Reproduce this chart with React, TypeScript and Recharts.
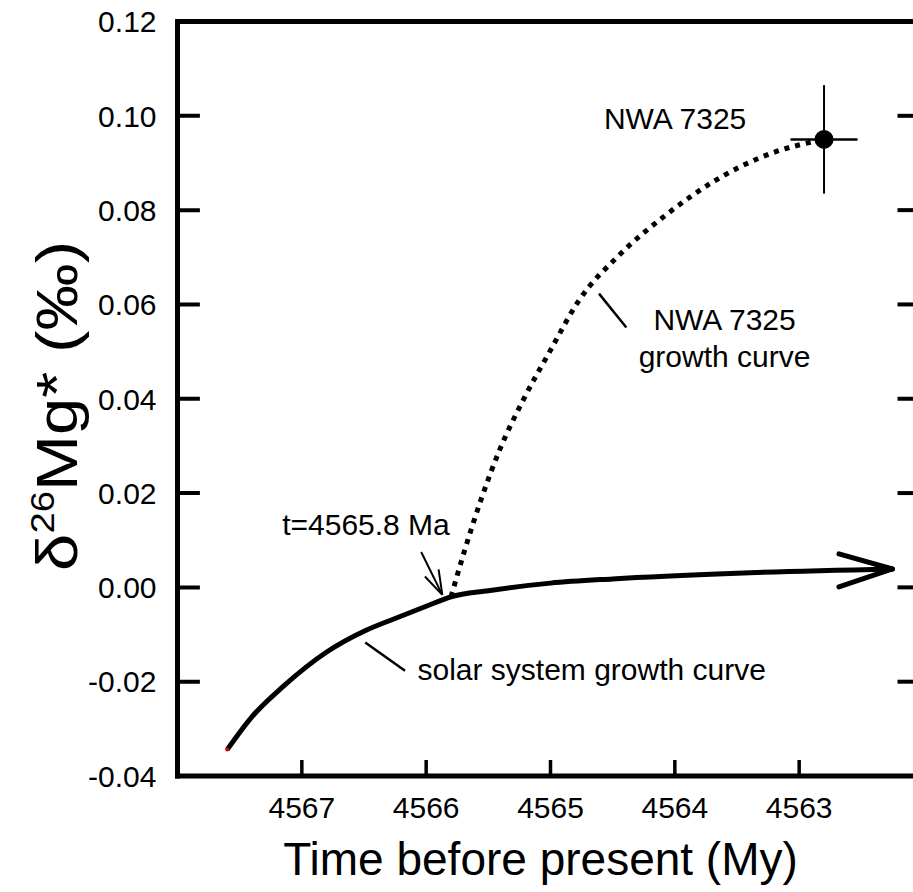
import {
  ComposedChart,
  Line,
  Scatter,
  XAxis,
  YAxis,
  ErrorBar,
  ReferenceLine,
  ReferenceDot,
} from "recharts";

const FONT = '"Liberation Sans", Arial, sans-serif';

// axis range and ticks
const xDomain = [4562, 4568];
const yDomain = [-0.04, 0.12];
const xTicks = [4567, 4566, 4565, 4564, 4563];
const yTicks = [-0.04, -0.02, 0.0, 0.02, 0.04, 0.06, 0.08, 0.1, 0.12];
const leftTickLen = 0.18; // inward tick length on the left frame, in My

// solar system growth curve (time in My before present, delta26Mg*)
const solarT = [4567.6, 4567.4, 4567.15, 4566.8, 4566.5, 4566.25, 4566.0, 4565.8, 4565.5, 4565.0, 4564.5, 4563.5, 4562.25];
const solarV = [-0.0344, -0.0274, -0.021, -0.0137, -0.0093, -0.0066, -0.004, -0.002, -0.0007, 0.0009, 0.0018, 0.003, 0.0039];

// NWA 7325 growth curve
const nwaT = [4565.8, 4565.69, 4565.56, 4565.41, 4565.22, 4565.0, 4564.77, 4564.45, 4564.08, 4563.68, 4563.24, 4562.8];
const nwaV = [-0.002, 0.0079, 0.0185, 0.0291, 0.0397, 0.0503, 0.0609, 0.0704, 0.0788, 0.0862, 0.0919, 0.095];

// NWA 7325 measurement
const pointT = 4562.8;
const pointV = 0.095;
const pointErrT = 0.27;
const pointErrV = 0.0115;

// annotation segments [t1, v1, t2, v2]
const arrowHeadSolar = [
  [4562.68, 0.0071, 4562.25, 0.0039],
  [4562.68, 0.0001, 4562.25, 0.0039],
];
const ageArrow = [
  [4566.04, 0.0075, 4565.87, -0.0016],
  [4565.9, 0.0038, 4565.87, -0.0016],
  [4566.01, 0.0023, 4565.87, -0.0016],
];
const solarLeader = [4566.49, -0.0117, 4566.17, -0.0177];
const nwaLeader = [4564.61, 0.0623, 4564.39, 0.0551];

// annotation texts [text, t, v, anchor]
const notes: [string, number, number, "start" | "middle" | "end"][] = [
  ["NWA 7325", 4564.57, 0.0972, "start"],
  ["NWA 7325", 4563.6, 0.0545, "middle"],
  ["growth curve", 4563.6, 0.0467, "middle"],
  ["t=4565.8 Ma", 4565.81, 0.0111, "end"],
  ["solar system growth curve", 4566.07, -0.0196, "start"],
];

const solarData = solarT.map((t, i) => ({ t, v: solarV[i] }));
const nwaData = nwaT.map((t, i) => ({ t, v: nwaV[i] }));
const pointData = [{ t: pointT, v: pointV, ex: pointErrT, ey: pointErrV }];
const startData = [{ t: solarT[0], v: solarV[0] }];
const leftTickData = yTicks.slice(1, -1).map((v) => [
  { t: xDomain[1], v },
  { t: xDomain[1] - leftTickLen, v },
]);

const LeftTick = (props: any) => {
  const x = Number(props.x);
  const y = Number(props.y);
  return (
    <text x={x - 21} y={y} dy="0.36em" textAnchor="end" fontSize={30} fontFamily={FONT} fill="#000">
      {Number(props.payload.value).toFixed(2)}
    </text>
  );
};

const RightTick = (props: any) => {
  const x = Number(props.x);
  const y = Number(props.y);
  return <line x1={x} x2={x - 26} y1={y} y2={y} stroke="#000" strokeWidth={4} />;
};

const BottomTick = (props: any) => {
  const x = Number(props.x);
  const y = Number(props.y);
  return (
    <g>
      <line x1={x} x2={x} y1={y} y2={y - 16} stroke="#000" strokeWidth={3.5} />
      <text x={x} y={y + 42} textAnchor="middle" fontSize={30} fontFamily={FONT} fill="#000">
        {props.payload.value}
      </text>
    </g>
  );
};

const axisLine = { stroke: "#000", strokeWidth: 5, strokeLinecap: "square" as const };

export default function App() {
  return (
    <div style={{ position: "absolute", left: 0, top: 0, width: 913, height: 892, overflow: "hidden", background: "#fff" }}>
      <ComposedChart
        width={940}
        height={892}
        margin={{ top: 20.5, right: 15.5, bottom: 0, left: 0 }}
        style={{ fontFamily: FONT }}
      >
        <XAxis
          type="number"
          dataKey="t"
          domain={xDomain}
          reversed
          ticks={xTicks}
          height={116}
          tickSize={0}
          tickMargin={0}
          tickLine={false}
          axisLine={axisLine}
          tick={<BottomTick />}
          allowDataOverflow
          label={{
            content: ({ viewBox }: any) => (
              <text
                x={viewBox.x + viewBox.width / 2 - 10}
                y={viewBox.y + 99}
                textAnchor="middle"
                fontSize={46}
                fontFamily={FONT}
                fill="#000"
              >
                Time before present (My)
              </text>
            ),
          }}
        />
        <XAxis
          xAxisId="top"
          orientation="top"
          type="number"
          dataKey="t"
          domain={xDomain}
          reversed
          height={1}
          tick={false}
          tickLine={false}
          axisLine={axisLine}
          allowDataOverflow
        />
        <YAxis
          type="number"
          domain={yDomain}
          ticks={yTicks}
          width={177.5}
          tickSize={0}
          tickMargin={0}
          tickLine={false}
          axisLine={axisLine}
          tick={<LeftTick />}
          allowDataOverflow
          label={{
            content: () => {
              const cx = 77;
              const cy = 406;
              return (
                <text
                  x={cx}
                  y={cy}
                  transform={`rotate(-90, ${cx}, ${cy})`}
                  textAnchor="middle"
                  fontSize={58}
                  fontFamily={FONT}
                  fill="#000"
                  textLength={330}
                  lengthAdjust="spacingAndGlyphs"
                >
                  δ<tspan dy={-23} fontSize={33}>26</tspan>
                  <tspan dy={23}>Mg* (‰)</tspan>
                </text>
              );
            },
          }}
        />
        <YAxis
          yAxisId="right"
          orientation="right"
          type="number"
          domain={yDomain}
          ticks={yTicks}
          width={1}
          tickSize={0}
          tickMargin={0}
          tickLine={false}
          axisLine={axisLine}
          tick={<RightTick />}
          allowDataOverflow
        />

        {/* invisible series that binds the top and right frame axes */}
        <Line
          xAxisId="top"
          yAxisId="right"
          data={solarData}
          dataKey="v"
          stroke="none"
          dot={false}
          activeDot={false}
          legendType="none"
          isAnimationActive={false}
        />

        {/* inward ticks on the left frame */}
        {leftTickData.map((d, i) => (
          <Line
            key={`lt${i}`}
            data={d}
            dataKey="v"
            type="linear"
            stroke="#000"
            strokeWidth={4}
            dot={false}
            activeDot={false}
            legendType="none"
            isAnimationActive={false}
          />
        ))}

        <Line
          data={solarData}
          dataKey="v"
          type="monotone"
          stroke="#000"
          strokeWidth={5}
          dot={false}
          activeDot={false}
          isAnimationActive={false}
        />
        <Line
          data={nwaData}
          dataKey="v"
          type="monotone"
          stroke="#000"
          strokeWidth={5}
          strokeDasharray="5 6"
          dot={false}
          activeDot={false}
          isAnimationActive={false}
        />

        {arrowHeadSolar.map((s, i) => (
          <ReferenceLine
            key={`ah${i}`}
            segment={[{ x: s[0], y: s[1] }, { x: s[2], y: s[3] }]}
            stroke="#000"
            strokeWidth={5}
            strokeLinecap="round"
            ifOverflow="visible"
          />
        ))}
        {ageArrow.map((s, i) => (
          <ReferenceLine
            key={`aa${i}`}
            segment={[{ x: s[0], y: s[1] }, { x: s[2], y: s[3] }]}
            stroke="#000"
            strokeWidth={2}
            ifOverflow="visible"
          />
        ))}
        <ReferenceLine
          segment={[{ x: solarLeader[0], y: solarLeader[1] }, { x: solarLeader[2], y: solarLeader[3] }]}
          stroke="#000"
          strokeWidth={2.5}
          ifOverflow="visible"
        />
        <ReferenceLine
          segment={[{ x: nwaLeader[0], y: nwaLeader[1] }, { x: nwaLeader[2], y: nwaLeader[3] }]}
          stroke="#000"
          strokeWidth={2.5}
          ifOverflow="visible"
        />

        <Scatter
          data={pointData}
          dataKey="v"
          fill="#000"
          isAnimationActive={false}
          shape={(p: any) => <circle cx={p.cx} cy={p.cy} r={9.5} fill="#000" />}
        >
          <ErrorBar dataKey="ex" direction="x" width={0} stroke="#000" strokeWidth={2.5} />
          <ErrorBar dataKey="ey" direction="y" width={0} stroke="#000" strokeWidth={2} />
        </Scatter>
        <Scatter
          data={startData}
          dataKey="v"
          fill="#d00"
          isAnimationActive={false}
          shape={(p: any) => <circle cx={p.cx} cy={p.cy} r={2} fill="#d00" />}
        />

        {notes.map(([txt, t, v, anchor], i) => (
          <ReferenceDot
            key={`n${i}`}
            x={t}
            y={v}
            r={0}
            ifOverflow="visible"
            shape={(p: any) => (
              <text x={p.cx} y={p.cy} textAnchor={anchor} fontSize={30} fontFamily={FONT} fill="#000">
                {txt}
              </text>
            )}
          />
        ))}
      </ComposedChart>
    </div>
  );
}
